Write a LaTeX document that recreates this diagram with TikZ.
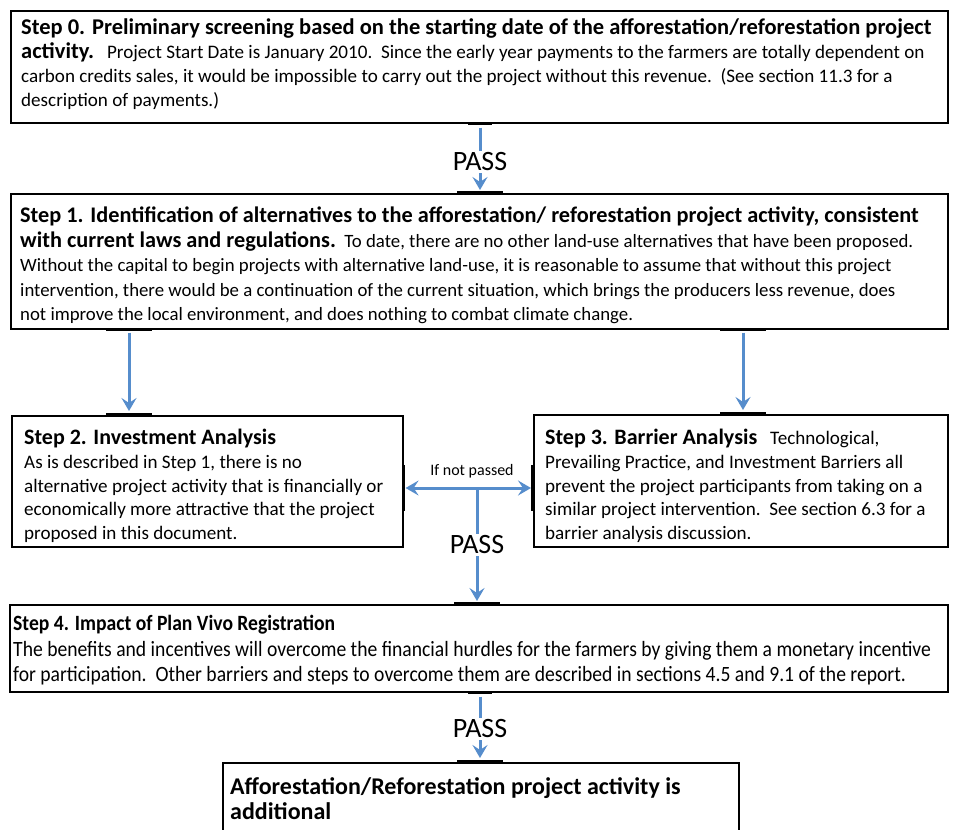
\documentclass[tikz,border=0pt]{standalone}
\usepackage{fontspec}
\setmainfont{Carlito}
\newfontfamily\condfont[FakeStretch=0.9]{Carlito}
\usetikzlibrary{arrows.meta,calc}
\definecolor{arrblue}{RGB}{86,141,204}
\newcommand\hdA{\bfseries\fontsize{22.5}{24.3}\selectfont}
\newcommand\hdB{\bfseries\fontsize{22.3}{24.5}\selectfont}
\newcommand\hdC{\bfseries\fontsize{22}{23.7}\selectfont}
\tikzset{
  box/.style={draw=black, line width=1.6pt, fill=white, anchor=north west, inner sep=0pt},
  txt/.style={anchor=north west, inner sep=0pt, align=left},
  arr/.style={draw=arrblue, line width=3pt, -{Stealth[length=13pt,width=15pt,inset=5pt]}},
  darr/.style={draw=arrblue, line width=3pt, {Stealth[length=13pt,width=15pt,inset=5pt]}-{Stealth[length=13pt,width=15pt,inset=5pt]}},
  bar/.style={draw=black, line width=3.5pt},
  pass/.style={fill=white, inner sep=2pt, font=\fontsize{28}{30}\selectfont},
}
\begin{document}
\begin{tikzpicture}[x=1pt,y=-1pt]
\useasboundingbox (0,0) rectangle (956,830);
\clip (0,0) rectangle (956,830);
\fill[white] (0,0) rectangle (956,830);
% boxes
\node[box, minimum width=937pt, minimum height=112pt] (s0) at (10,10) {};
\node[box, minimum width=937pt, minimum height=135pt] (s1) at (10,193) {};
\node[box, minimum width=391pt, minimum height=131pt] (s2) at (11,415) {};
\node[box, minimum width=414pt, minimum height=132pt] (s3) at (533,414) {};
\node[box, minimum width=938pt, minimum height=87pt] (s4) at (9,604) {};
\node[box, minimum width=516pt, minimum height=90pt] (s5) at (222,762) {};
% texts
\node[txt, font=\fontsize{19.1}{24.3}\selectfont] (t0) at (21,18) {%
{\hdA Step 0. Preliminary screening based on the starting date of the afforestation/reforestation project}\\
{\hdA activity.}\ \ \ Project Start Date is January 2010.\ \ Since the early year payments to the farmers are totally dependent on\\
carbon credits sales, it would be impossible to carry out the project without this revenue.\ \ (See section 11.3 for a\\
description of payments.)};
\node[txt, font=\fontsize{18.8}{24.5}\selectfont] (t1) at (20,207) {%
{\hdB Step 1. Identification of alternatives to the afforestation/ reforestation project activity, consistent}\\
{\hdB with current laws and regulations.}\ \ To date, there are no other land-use alternatives that have been proposed.\\
Without the capital to begin projects with alternative land-use, it is reasonable to assume that without this project\\
intervention, there would be a continuation of the current situation, which brings the producers less revenue, does\\
not improve the local environment, and does nothing to combat climate change.};
\node[txt, font=\fontsize{19.1}{23.7}\selectfont] (t2) at (24,429) {%
{\hdC Step 2. Investment Analysis}\\
As is described in Step 1, there is no\\
alternative project activity that is financially or\\
economically more attractive that the project\\
proposed in this document.};
\node[txt, font=\fontsize{19.1}{23.7}\selectfont] (t3) at (545,429) {%
{\hdC Step 3. Barrier Analysis}\ \ \ Technological,\\
Prevailing Practice, and Investment Barriers all\\
prevent the project participants from taking on a\\
similar project intervention.\ \ See section 6.3 for a\\
barrier analysis discussion.};
\node[txt, font=\condfont\fontsize{21.8}{25}\selectfont] (t4) at (13,615) {%
{\bfseries Step 4. Impact of Plan Vivo Registration}\\[1pt]
The benefits and incentives will overcome the financial hurdles for the farmers by giving them a monetary incentive\\
for participation.\ \ Other barriers and steps to overcome them are described in sections 4.5 and 9.1 of the report.};
\node[txt, font=\bfseries\fontsize{24}{25.5}\selectfont] (t5) at (230,777) {%
Afforestation/Reforestation project activity is\\
additional};
% connector coordinates
\coordinate (ca) at (480,0);
\coordinate (cl) at (129,0);
\coordinate (cr) at (743,0);
\coordinate (cm) at (477,488);
% bars
\draw[bar] ($(s0.south -| ca)+(-12,0)$) -- ($(s0.south -| ca)+(12,0)$);
\draw[bar] ($(s1.north -| ca)+(-23,0)$) -- ($(s1.north -| ca)+(23,0)$);
\draw[bar] ($(s1.south -| cl)+(-23,0)$) -- ($(s1.south -| cl)+(23,0)$);
\draw[bar] ($(s2.north -| cl)+(-23,0)$) -- ($(s2.north -| cl)+(23,0)$);
\draw[bar] ($(s1.south -| cr)+(-23,0)$) -- ($(s1.south -| cr)+(23,0)$);
\draw[bar] ($(s3.north -| cr)+(-23,0)$) -- ($(s3.north -| cr)+(23,0)$);
\draw[bar] ($(s2.east |- cm)+(0,-23)$) -- ($(s2.east |- cm)+(0,23)$);
\draw[bar] ($(s3.west |- cm)+(0,-23)$) -- ($(s3.west |- cm)+(0,23)$);
\draw[bar] ($(s4.north -| cm)+(-23,0)$) -- ($(s4.north -| cm)+(23,0)$);
\draw[bar] ($(s4.south -| ca)+(-12,0)$) -- ($(s4.south -| ca)+(12,0)$);
\draw[bar] ($(s5.north -| ca)+(-23,0)$) -- ($(s5.north -| ca)+(23,0)$);
% arrows
\draw[arr, shorten <=4pt, shorten >=3pt] (s0.south -| ca) -- (s1.north -| ca);
\node[pass] (p0) at (480,162) {PASS};
\draw[arr, shorten <=3pt, shorten >=4pt] (s1.south -| cl) -- (s2.north -| cl);
\draw[arr, shorten <=3pt, shorten >=4pt] (s1.south -| cr) -- (s3.north -| cr);
\draw[darr, shorten <=2pt, shorten >=2pt] (s2.east |- cm) -- (s3.west |- cm);
\node[font=\fontsize{16}{18}\selectfont, inner sep=1pt] (lnp) at (472,471) {If not passed};
\draw[arr, shorten >=3pt] (cm) -- (s4.north -| cm);
\node[pass] (p1) at (477,545) {PASS};
\draw[arr, shorten <=4pt, shorten >=4pt] (s4.south -| ca) -- (s5.north -| ca);
\node[pass] (p2) at (480,729) {PASS};
\end{tikzpicture}
\end{document}
